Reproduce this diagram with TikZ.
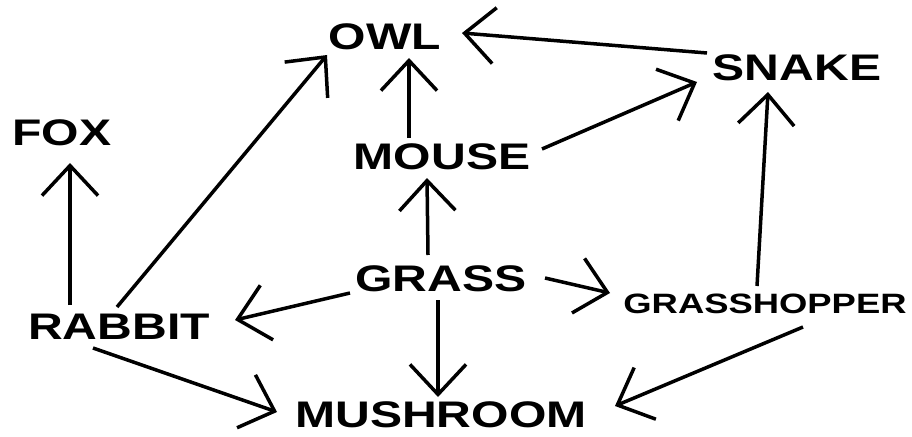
\documentclass[tikz,border=0pt]{standalone}
\usepackage{fontspec}
\setmainfont{Liberation Sans}[FakeStretch=1.3]
\usepackage{tikz}
\usetikzlibrary{arrows.meta}

\begin{document}
\begin{tikzpicture}[x=1pt,y=-1pt,>={Straight Barb[length=30pt,width=56pt]},
  line width=3.5pt,
  critter/.style={inner sep=0pt,font=\fontsize{37}{40}\selectfont\bfseries},
  small critter/.style={inner sep=0pt,font=\fontsize{28}{30}\selectfont\bfseries}]
\useasboundingbox (0,0) rectangle (912,436);
\node[critter] (owl) at (385,37) {OWL};
\node[critter] (snake) at (797,68) {SNAKE};
\node[critter] (fox) at (62,133) {FOX};
\node[critter] (mouse) at (442,157) {MOUSE};
\node[critter] (grass) at (441,279) {GRASS};
\node[small critter] (hopper) at (765,304) {GRASSHOPPER};
\node[critter] (rabbit) at (119,327) {RABBIT};
\node[critter] (mush) at (441,415) {MUSHROOM};
\draw[->] ([shift={(-49,-22)}]rabbit.center) -- ([shift={(8,30)}]fox.center);
\draw[->] ([shift={(-2,-20)}]rabbit.center) -- ([shift={(-58,18)}]owl.center);
\draw[->] ([shift={(-26,21)}]rabbit.center) -- ([shift={(-164,-3)}]mush.center);
\draw[->] ([shift={(-91,14)}]grass.center) -- ([shift={(116,-7)}]rabbit.center);
\draw[->] ([shift={(-13,-24)}]grass.center) -- ([shift={(-15,21)}]mouse.center);
\draw[->] ([shift={(-3,21)}]grass.center) -- ([shift={(-3,-18)}]mush.center);
\draw[->] ([shift={(104,-1)}]grass.center) -- ([shift={(-155,-11)}]hopper.center);
\draw[->] ([shift={(-33,-19)}]mouse.center) -- ([shift={(24,21)}]owl.center);
\draw[->] ([shift={(100,-8)}]mouse.center) -- ([shift={(-100,14)}]snake.center);
\draw[->] ([shift={(-90,-15)}]snake.center) -- ([shift={(77,-4)}]owl.center);
\draw[->] ([shift={(-8,-18)}]hopper.center) -- ([shift={(-29,24)}]snake.center);
\draw[->] ([shift={(38,23)}]hopper.center) -- ([shift={(174,-9)}]mush.center);
\end{tikzpicture}
\end{document}
